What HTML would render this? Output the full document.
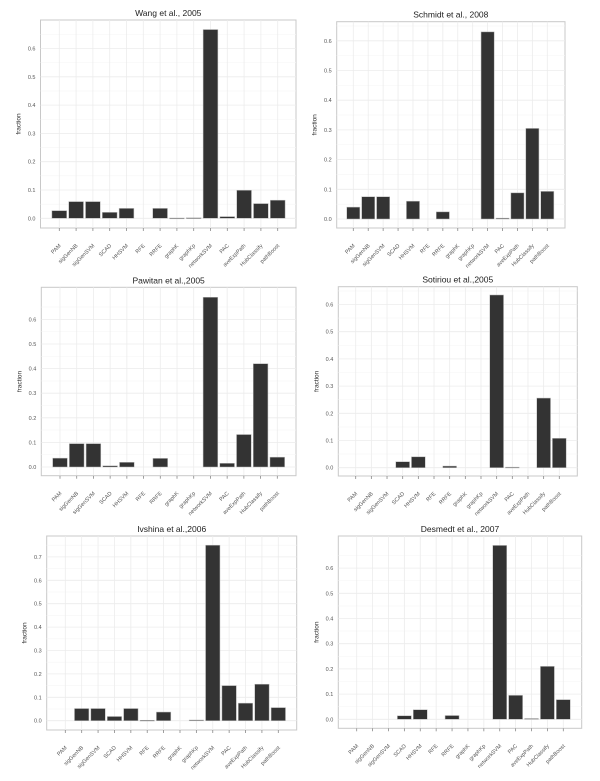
<!DOCTYPE html>
<html><head><meta charset="utf-8"><style>
html,body{margin:0;padding:0;background:#fff;}
svg text{font-family:"Liberation Sans",sans-serif;}
</style></head><body>
<svg id="c" width="600" height="776" viewBox="0 0 600 776" xmlns="http://www.w3.org/2000/svg"></svg>
<script>
const categories=["PAM","sigGenNB","sigGenSVM","SCAD","HHSVM","RFE","RRFE","graphK","graphKp","networkSVM","PAC","aveExpPath","HubClassify","pathBoost"];
const titles=["Wang et al., 2005","Schmidt et al., 2008","Pawitan et al.,2005","Sotiriou et al.,2005","Ivshina et al.,2006","Desmedt et al., 2007"];
const wangValues=[0.027,0.059,0.059,0.021,0.035,0,0.035,0.001,0.002,0.667,0.006,0.099,0.052,0.064];
const schmidtValues=[0.04,0.075,0.075,0,0.06,0,0.024,0,0,0.63,0.003,0.088,0.305,0.093];
const pawitanValues=[0.036,0.095,0.095,0.005,0.019,0,0.035,0,0,0.69,0.015,0.132,0.42,0.04];
const sotiriouValues=[0,0,0,0.022,0.04,0,0.006,0,0,0.635,0.002,0,0.256,0.108];
const ivshinaValues=[0,0.052,0.052,0.018,0.052,0.002,0.037,0,0.003,0.75,0.15,0.075,0.156,0.056];
const desmedtValues=[0,0,0,0.014,0.038,0,0.015,0,0,0.69,0.095,0.003,0.21,0.078];
const yTicks6=["0.0","0.1","0.2","0.3","0.4","0.5","0.6"];
const yTicks7=["0.0","0.1","0.2","0.3","0.4","0.5","0.6","0.7"];
const seriesList=[wangValues,schmidtValues,pawitanValues,sotiriouValues,ivshinaValues,desmedtValues];
const tickSets=[yTicks6,yTicks6,yTicks6,yTicks6,yTicks7,yTicks6];
// layout geometry (pixels)
const panels=[
 {x0:40.5,x1:296,y0:20,y1:228,c0:59.3,c1:277.7,zero:218.3,unit:283},
 {x0:336.7,x1:565,y0:21.7,y1:228,c0:353.3,c1:547.3,zero:219,unit:297},
 {x0:41.3,x1:296,y0:287.3,y1:475.7,c0:60,c1:277.3,zero:467,unit:246},
 {x0:338.3,x1:577.3,y0:286.7,y1:476,c0:355.7,c1:559.3,zero:467.7,unit:272},
 {x0:46.7,x1:296.7,y0:536,y1:730,c0:65.3,c1:278.3,zero:720.7,unit:234},
 {x0:338.3,x1:581.7,y0:536,y1:728.3,c0:356.7,c1:563.3,zero:719.3,unit:252}
];
const NS="http://www.w3.org/2000/svg";
const svg=document.getElementById('c');
function mk(tag,attrs,parent){const e=document.createElementNS(NS,tag);for(const k in attrs)e.setAttribute(k,attrs[k]);parent.appendChild(e);return e;}
seriesList.forEach((vals,pi)=>{
  const p=panels[pi];
  const g=mk('g',{},svg);
  
  
  const step=(p.c1-p.c0)/(categories.length-1);
  const xs=i=>p.c0+i*step;
  const ys=v=>p.zero-v*p.unit;
  const bg=mk('rect',{x:p.x0,y:p.y0,width:p.x1-p.x0,height:p.y1-p.y0,fill:'#fff',stroke:'#c8c8c8','stroke-width':1},g);
  
  
  // grid
  tickSets[pi].forEach((t,k)=>{
    const v=parseFloat(t);
    mk('line',{x1:p.x0,x2:p.x1,y1:ys(v),y2:ys(v),stroke:'#ececec','stroke-width':0.8},g);
    mk('line',{x1:p.x0,x2:p.x1,y1:ys(v+0.05),y2:ys(v+0.05),stroke:'#f6f6f6','stroke-width':0.6},g);
    const tl=mk('text',{x:p.x0-5,y:ys(v)+2,'font-size':5.5,fill:'#555','text-anchor':'end'},g);
    tl.textContent=t;
    
    
  });
  categories.forEach((c,i)=>{
    mk('line',{x1:xs(i),x2:xs(i),y1:p.y0,y2:p.y1,stroke:'#ececec','stroke-width':0.8},g);
    mk('line',{x1:xs(i),x2:xs(i),y1:p.y1,y2:p.y1+3,stroke:'#888','stroke-width':0.8},g);
    const lx=xs(i)+2, ly=p.y1+18;
    const tl=mk('text',{x:lx,y:ly,'font-size':5.5,fill:'#555','text-anchor':'end',transform:`rotate(-45 ${lx} ${ly})`},g);
    tl.textContent=c;
    
    
  });
  const bw=step*0.88;
  vals.forEach((v,i)=>{
    if(v<=0)return;
    const r=mk('rect',{x:xs(i)-bw/2,y:ys(v),width:bw,height:Math.max(ys(0)-ys(v),0.8),fill:'#333',stroke:'#bbb','stroke-width':0.5},g);
    
    
  });
  const tt=mk('text',{x:(p.x0+p.x1)/2,y:p.y0-4,'font-size':8.5,fill:'#222','text-anchor':'middle'},g);
  tt.textContent=titles[pi];
  
  
  const yc=(p.y0+p.y1)/2, yx=p.x0-20;
  const ya=mk('text',{x:yx,y:yc,'font-size':6.5,fill:'#333','text-anchor':'middle',transform:`rotate(-90 ${yx} ${yc})`},g);
  ya.textContent='fraction';
  
  
});
</script>
</body></html>
